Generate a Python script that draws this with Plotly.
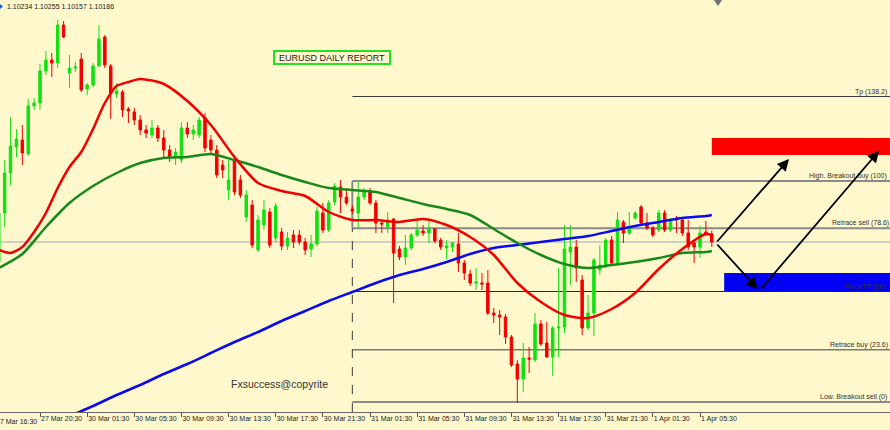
import plotly.graph_objects as go

# ---------------- data ----------------
bars = list(range(122))  # 30-minute bars, index 0 = 27 Mar 17:00

opens = [1.10066, 1.10360, 1.10600, 1.10756, 1.10798, 1.10714, 1.11002, 1.11020, 1.11212, 1.11278,
         1.11260, 1.11488, 1.11200, 1.11230, 1.11284, 1.11104, 1.11128, 1.11242, 1.11416, 1.11242,
         1.11074, 1.11086, 1.10984, 1.10966, 1.10918, 1.10858, 1.10828, 1.10870, 1.10810, 1.10738,
         1.10696, 1.10678, 1.10870, 1.10834, 1.10828, 1.10930, 1.10798, 1.10738, 1.10648, 1.10498,
         1.10678, 1.10558, 1.10336, 1.10408, 1.10138, 1.10288, 1.10366, 1.10210, 1.10246, 1.10162,
         1.10228, 1.10228, 1.10186, 1.10144, 1.10174, 1.10360, 1.10258, 1.10426, 1.10516, 1.10456,
         1.10384, 1.10360, 1.10456, 1.10492, 1.10420, 1.10300, 1.10276, 1.10324, 1.10144, 1.10096,
         1.10150, 1.10228, 1.10252, 1.10240, 1.10264, 1.10198, 1.10150, 1.10156, 1.10174, 1.10060,
         1.09994, 1.09940, 1.09940, 1.09940, 1.09760, 1.09748, 1.09736, 1.09616, 1.09454, 1.09364,
         1.09490, 1.09478, 1.09694, 1.09580, 1.09496, 1.09670, 1.09676, 1.10126, 1.10156, 1.09958,
         1.09670, 1.09760, 1.10018, 1.10048, 1.10198, 1.10060, 1.10306, 1.10240, 1.10330, 1.10396,
         1.10300, 1.10270, 1.10258, 1.10360, 1.10258, 1.10330, 1.10318, 1.10240, 1.10180, 1.10156,
         1.10246, 1.10234]
highs = [1.10408, 1.10678, 1.10936, 1.10864, 1.10888, 1.11044, 1.11050, 1.11254, 1.11332, 1.11320,
         1.11518, 1.11512, 1.11308, 1.11266, 1.11320, 1.11140, 1.11260, 1.11488, 1.11428, 1.11254,
         1.11140, 1.11098, 1.10996, 1.10990, 1.10948, 1.10888, 1.10918, 1.10888, 1.10858, 1.10768,
         1.10750, 1.10906, 1.10906, 1.10888, 1.10936, 1.10960, 1.10828, 1.10768, 1.10678, 1.10678,
         1.10708, 1.10588, 1.10498, 1.10438, 1.10348, 1.10438, 1.10390, 1.10420, 1.10270, 1.10246,
         1.10258, 1.10258, 1.10210, 1.10228, 1.10396, 1.10420, 1.10438, 1.10540, 1.10558, 1.10510,
         1.10408, 1.10546, 1.10510, 1.10510, 1.10438, 1.10318, 1.10366, 1.10330, 1.10162, 1.10228,
         1.10240, 1.10318, 1.10288, 1.10318, 1.10270, 1.10210, 1.10198, 1.10186, 1.10240, 1.10078,
         1.10018, 1.10030, 1.10000, 1.10018, 1.09790, 1.09778, 1.09754, 1.09628, 1.09478, 1.09580,
         1.09556, 1.09760, 1.09718, 1.09706, 1.09682, 1.10030, 1.10288, 1.10288, 1.10198, 1.09988,
         1.09868, 1.10090, 1.10168, 1.10210, 1.10222, 1.10366, 1.10318, 1.10366, 1.10372, 1.10408,
         1.10360, 1.10282, 1.10378, 1.10378, 1.10330, 1.10342, 1.10330, 1.10318, 1.10198, 1.10282,
         1.10312, 1.10255]
lows = [1.10030, 1.10276, 1.10528, 1.10696, 1.10648, 1.10702, 1.10978, 1.10978, 1.11188, 1.11176,
        1.11230, 1.11410, 1.11110, 1.11206, 1.11086, 1.11068, 1.11116, 1.11236, 1.11230, 1.10924,
        1.11050, 1.10936, 1.10900, 1.10888, 1.10828, 1.10810, 1.10810, 1.10786, 1.10690, 1.10666,
        1.10648, 1.10660, 1.10810, 1.10798, 1.10810, 1.10726, 1.10708, 1.10570, 1.10570, 1.10438,
        1.10468, 1.10450, 1.10306, 1.10150, 1.10126, 1.10258, 1.10150, 1.10186, 1.10138, 1.10138,
        1.10150, 1.10168, 1.10108, 1.10096, 1.10162, 1.10240, 1.10246, 1.10408, 1.10360, 1.10408,
        1.10354, 1.10270, 1.10438, 1.10408, 1.10240, 1.10240, 1.10240, 1.09820, 1.10078, 1.10048,
        1.10138, 1.10216, 1.10222, 1.10180, 1.10180, 1.10138, 1.10084, 1.10126, 1.10006, 1.09958,
        1.09922, 1.09898, 1.09898, 1.09748, 1.09700, 1.09628, 1.09574, 1.09436, 1.09220, 1.09286,
        1.09400, 1.09466, 1.09562, 1.09490, 1.09382, 1.09496, 1.09640, 1.09928, 1.09946, 1.09628,
        1.09658, 1.09622, 1.09988, 1.10030, 1.10042, 1.10048, 1.10180, 1.10228, 1.10318, 1.10288,
        1.10258, 1.10216, 1.10246, 1.10246, 1.10246, 1.10240, 1.10222, 1.10138, 1.10060, 1.10090,
        1.10222, 1.10157]
closes = [1.10360, 1.10600, 1.10762, 1.10804, 1.10720, 1.11002, 1.11020, 1.11212, 1.11278, 1.11260,
          1.11488, 1.11416, 1.11230, 1.11236, 1.11098, 1.11128, 1.11242, 1.11404, 1.11248, 1.11080,
          1.11092, 1.10978, 1.10972, 1.10918, 1.10858, 1.10840, 1.10870, 1.10810, 1.10738, 1.10696,
          1.10726, 1.10870, 1.10834, 1.10858, 1.10918, 1.10750, 1.10738, 1.10588, 1.10618, 1.10558,
          1.10486, 1.10468, 1.10468, 1.10168, 1.10318, 1.10378, 1.10168, 1.10402, 1.10162, 1.10210,
          1.10186, 1.10186, 1.10138, 1.10174, 1.10372, 1.10258, 1.10420, 1.10522, 1.10456, 1.10420,
          1.10372, 1.10456, 1.10492, 1.10420, 1.10300, 1.10294, 1.10318, 1.10120, 1.10096, 1.10150,
          1.10228, 1.10258, 1.10240, 1.10264, 1.10192, 1.10156, 1.10162, 1.10180, 1.10060, 1.10000,
          1.09940, 1.09946, 1.09934, 1.09760, 1.09748, 1.09736, 1.09616, 1.09448, 1.09364, 1.09490,
          1.09484, 1.09694, 1.09574, 1.09496, 1.09670, 1.09676, 1.10144, 1.10156, 1.10030, 1.09670,
          1.09760, 1.10078, 1.10048, 1.10198, 1.10060, 1.10318, 1.10240, 1.10270, 1.10360, 1.10300,
          1.10270, 1.10228, 1.10360, 1.10258, 1.10318, 1.10318, 1.10240, 1.10156, 1.10156, 1.10240,
          1.10234, 1.10186]

tick_bars = [7, 15, 23, 31, 39, 47, 55, 63, 71, 79, 87, 95, 103, 111, 119]
tick_labels = ["27 Mar 20:30", "30 Mar 01:30", "30 Mar 05:30", "30 Mar 09:30", "30 Mar 13:30",
               "30 Mar 17:30", "30 Mar 21:30", "31 Mar 01:30", "31 Mar 05:30", "31 Mar 09:30",
               "31 Mar 13:30", "31 Mar 17:30", "31 Mar 21:30", "1 Apr 01:30", "1 Apr 05:30"]
first_label = "27 Mar 16:30"

red_ma_bars = [0, 2, 4, 6, 8, 10, 12, 14, 16, 18, 20, 22, 24, 28, 32, 36, 40, 44, 48, 52, 56, 60,
               64, 68, 72, 76, 80, 84, 88, 92, 96, 100, 104, 108, 112, 116, 120, 121]
red_ma = [1.10138, 1.10120, 1.10156, 1.10246, 1.10360, 1.10510, 1.10636, 1.10726, 1.10864, 1.11020,
          1.11122, 1.11146, 1.11164, 1.11134, 1.11032, 1.10888, 1.10696, 1.10540, 1.10492, 1.10462,
          1.10366, 1.10318, 1.10318, 1.10306, 1.10324, 1.10288, 1.10216, 1.10108, 1.09940, 1.09826,
          1.09748, 1.09730, 1.09784, 1.09880, 1.10024, 1.10144, 1.10234, 1.10228]

green_ma_bars = [0, 4, 8, 12, 16, 20, 24, 28, 32, 36, 40, 44, 48, 52, 56, 60, 64, 68, 72, 76, 80,
                 84, 88, 92, 96, 100, 104, 108, 112, 116, 120, 121]
green_ma = [1.10030, 1.10114, 1.10276, 1.10420, 1.10522, 1.10600, 1.10660, 1.10690, 1.10696, 1.10714,
            1.10678, 1.10636, 1.10588, 1.10546, 1.10510, 1.10498, 1.10486, 1.10450, 1.10414, 1.10384,
            1.10348, 1.10264, 1.10180, 1.10108, 1.10054, 1.10030, 1.10048, 1.10066, 1.10090, 1.10120,
            1.10126, 1.10132]

blue_ma_bars = [8, 12, 16, 20, 24, 28, 32, 36, 40, 44, 48, 52, 56, 60, 64, 68, 72, 76, 80, 84, 88,
                92, 96, 100, 104, 108, 112, 116, 120, 121]
blue_ma = [1.09100, 1.09142, 1.09202, 1.09268, 1.09328, 1.09394, 1.09454, 1.09520, 1.09586, 1.09646,
           1.09712, 1.09772, 1.09832, 1.09886, 1.09940, 1.09988, 1.10024, 1.10066, 1.10114, 1.10150,
           1.10168, 1.10186, 1.10204, 1.10222, 1.10252, 1.10282, 1.10306, 1.10330, 1.10342, 1.10348]

fib_anchor_bar = 60
fib_names = ["Low. Breakout sell (0)", "Retrace buy (23.6)", "Pivot/TP (50)",
             "Retrace sell (78.6)", "High. Breakout buy (100)", "Tp (138.2)"]
fib_prices = [1.09226, 1.09539, 1.09889, 1.10268, 1.10552, 1.11059]

last_price = 1.10186
ohlc_text = "1.10234 1.10255 1.10157 1.10186"
title_text = "EURUSD DAILY REPORT"
watermark = "Fxsuccess@copyrite"

sell_zone = [1.10708, 1.10810]
buy_zone = [1.09889, 1.10000]
arrow_start = (121.7, 1.10180)
arrow_up_tip = (134.1, 1.10684)
arrow_down_tip = (128.8, 1.09904)
arrow_long_start = (129.2, 1.09898)
arrow_long_tip = (149.4, 1.10734)

# ---------------- styling / layout ----------------
BG = "#FEF8CC"
W, H = 890, 430
PLOT_H = 412
X_RANGE = [0.21, 151.24]
Y_RANGE = [1.09166, 1.11638]
FONT = "Liberation Sans"


def px_x(p):
    return p / W


def px_y(p):
    return 1 - p / PLOT_H


fig = go.Figure()
fig.add_trace(go.Candlestick(
    x=bars, open=opens, high=highs, low=lows, close=closes,
    increasing=dict(line=dict(color="#12E012", width=1), fillcolor="#12E012"),
    decreasing=dict(line=dict(color="#F20000", width=1), fillcolor="#F20000"),
    whiskerwidth=0, hoverinfo="skip", showlegend=False))

for xs, ys, col in [(blue_ma_bars, blue_ma, "#0A0AF0"),
                    (green_ma_bars, green_ma, "#17891A"),
                    (red_ma_bars, red_ma, "#F20000")]:
    fig.add_trace(go.Scatter(x=xs, y=ys, mode="lines",
                             line=dict(color=col, width=2.5, shape="spline", smoothing=0.7),
                             hoverinfo="skip", showlegend=False))

shapes = []
shapes.append(dict(type="line", xref="paper", yref="y", x0=0, x1=1, y0=last_price, y1=last_price,
                   line=dict(color="#9CA7BE", width=1), layer="below"))
fib_styles = [("#8A8A8A", 2), ("#3C3C3C", 1), ("#2A2A2A", 1), ("#8A8A8A", 2), ("#8A8A8A", 2), ("#3C3C3C", 1)]
for p, (c, w) in zip(fib_prices, fib_styles):
    shapes.append(dict(type="line", xref="x", yref="y", x0=fib_anchor_bar, x1=X_RANGE[1], y0=p, y1=p,
                       line=dict(color=c, width=w), layer="below"))
shapes.append(dict(type="line", xref="x", yref="y", x0=fib_anchor_bar, x1=fib_anchor_bar,
                   y0=fib_prices[3], y1=fib_prices[4], line=dict(color="#8A8A8A", width=2), layer="below"))
shapes.append(dict(type="line", xref="x", yref="y", x0=fib_anchor_bar, x1=fib_anchor_bar,
                   y0=Y_RANGE[0], y1=fib_prices[3], line=dict(color="#3C3C3C", width=1, dash="dash"),
                   layer="below"))
shapes.append(dict(type="rect", xref="x", yref="y", x0=121.0, x1=X_RANGE[1], y0=sell_zone[0], y1=sell_zone[1],
                   fillcolor="#FF0000", line=dict(width=0), layer="below"))
shapes.append(dict(type="rect", xref="x", yref="y", x0=123.1, x1=X_RANGE[1], y0=buy_zone[0], y1=buy_zone[1],
                   fillcolor="#0000F5", line=dict(width=0), layer="below"))
shapes.append(dict(type="rect", xref="paper", yref="paper", x0=px_x(274), x1=px_x(390),
                   y0=px_y(64), y1=px_y(51), line=dict(color="#22E022", width=2)))
shapes.append(dict(type="path", xref="paper", yref="paper",
                   path=f"M {px_x(714)} {px_y(0)} L {px_x(722)} {px_y(0)} L {px_x(718)} {px_y(6)} Z",
                   fillcolor="#707070", line=dict(width=0)))
shapes.append(dict(type="path", xref="paper", yref="paper",
                   path=f"M {px_x(0)} {px_y(4)} L {px_x(3)} {px_y(6.5)} L {px_x(0)} {px_y(9)} Z",
                   fillcolor="#2060D0", line=dict(width=0)))

ann = []
fib_label_start = [818, 828, 843, 830, 807, 853]
for name, p, sx in zip(fib_names, fib_prices, fib_label_start):
    ann.append(dict(text=name, xref="paper", yref="y", x=px_x(sx), y=p, yshift=5,
                    xanchor="left", yanchor="middle", showarrow=False,
                    font=dict(family=FONT, size=7, color="#333333")))
ann.append(dict(text=title_text, xref="paper", yref="paper", x=px_x(332), y=px_y(57.5),
                xanchor="center", yanchor="middle", showarrow=False,
                font=dict(family=FONT, size=9, color="#222222")))
ann.append(dict(text=watermark, xref="paper", yref="paper", x=px_x(229), y=px_y(384),
                xanchor="left", yanchor="middle", showarrow=False,
                font=dict(family=FONT, size=10.5, color="#333333")))
ann.append(dict(text=ohlc_text, xref="paper", yref="paper", x=px_x(5), y=px_y(7),
                xanchor="left", yanchor="middle", showarrow=False,
                font=dict(family=FONT, size=7, color="#222222")))
ann.append(dict(text=first_label, xref="paper", yref="paper", x=px_x(-6), y=px_y(421),
                xanchor="left", yanchor="middle", showarrow=False,
                font=dict(family=FONT, size=7, color="#222222")))
for tail, tip in [(arrow_start, arrow_up_tip), (arrow_start, arrow_down_tip),
                  (arrow_long_start, arrow_long_tip)]:
    ann.append(dict(x=tip[0], y=tip[1], ax=tail[0], ay=tail[1], xref="x", yref="y",
                    axref="x", ayref="y", text="", showarrow=True, arrowhead=2, arrowsize=1.3,
                    arrowwidth=1.8, arrowcolor="#000000"))

fig.update_layout(
    width=W, height=H, margin=dict(l=0, r=0, t=0, b=H - PLOT_H),
    paper_bgcolor=BG, plot_bgcolor=BG, showlegend=False, boxgap=0.4,
    shapes=shapes, annotations=ann,
    xaxis=dict(range=X_RANGE, tickmode="array", tickvals=tick_bars, ticktext=tick_labels,
               ticks="outside", ticklen=4, tickcolor="#555555", ticklabelposition="outside right",
               tickangle=0, tickfont=dict(family=FONT, size=7, color="#222222"),
               showgrid=False, zeroline=False, showline=True, linecolor="#666666", linewidth=1,
               rangeslider=dict(visible=False), fixedrange=True),
    yaxis=dict(range=Y_RANGE, showticklabels=False, showgrid=False, zeroline=False,
               showline=False, ticks="", fixedrange=True),
)

fig.write_html("out.html", config={"displayModeBar": False, "staticPlot": True},
               post_script="document.body.style.margin='0';document.body.style.overflow='hidden';"
                           "document.body.style.background='" + BG + "';")
